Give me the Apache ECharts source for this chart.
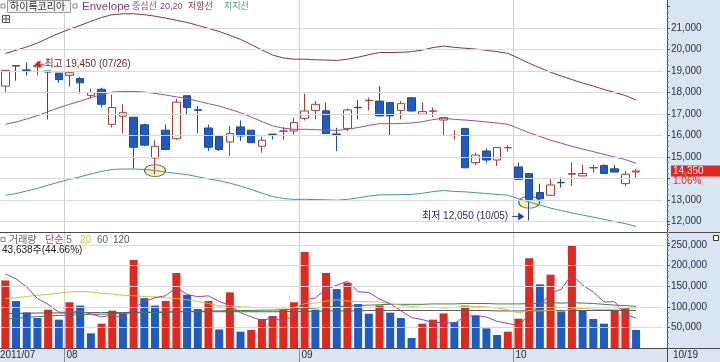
<!DOCTYPE html>
<html><head><meta charset="utf-8">
<script src="https://cdn.jsdelivr.net/npm/echarts@6/dist/echarts.min.js"></script>
<style>html,body{margin:0;padding:0;background:#fff}#c{width:720px;height:362px}</style>
</head><body><div id="c"></div>
<script>
// ---------------- data ----------------
const dates = [
 '2011/07/22','2011/07/25','2011/07/26','2011/07/27','2011/07/28','2011/07/29',
 '2011/08/01','2011/08/02','2011/08/03','2011/08/04','2011/08/05','2011/08/08','2011/08/09','2011/08/10','2011/08/11','2011/08/12',
 '2011/08/16','2011/08/17','2011/08/18','2011/08/19','2011/08/22','2011/08/23','2011/08/24','2011/08/25','2011/08/26','2011/08/29','2011/08/30','2011/08/31',
 '2011/09/01','2011/09/02','2011/09/05','2011/09/06','2011/09/07','2011/09/08','2011/09/09','2011/09/14','2011/09/15','2011/09/16',
 '2011/09/19','2011/09/20','2011/09/21','2011/09/22','2011/09/23','2011/09/26','2011/09/27','2011/09/28','2011/09/29','2011/09/30',
 '2011/10/04','2011/10/05','2011/10/06','2011/10/07','2011/10/10','2011/10/11','2011/10/12','2011/10/13','2011/10/14','2011/10/17','2011/10/18','2011/10/19'
];
const openP  = [18300,19250,19050,19200,19000,18900,18800,18650,17870,18150,16520,16900,16850,16500,14950,16250,15850,17850,17200,16350,15950,15700,16400,16250,15500,16060,16200,16210,16800,17170,17150,16070,16330,17310,17620,17600,17530,17170,17760,16990,17130,16720,16000,16330,14740,15280,14860,15430,14540,14230,13350,13220,13820,14200,14120,14490,14610,14450,13760,14300];
const highP  = [19050,19250,19390,19450,19000,18900,18950,18720,18180,18220,17900,17450,16850,16550,15780,16500,17700,17850,17370,16500,16000,16450,16700,16250,15950,16060,16400,16830,17950,17600,17530,16360,17260,17650,17760,18300,17530,17600,17780,17530,17300,16840,16240,16330,15200,15400,15440,15560,14740,14230,13760,13960,14040,14740,14630,14630,14650,14630,14350,14450];
const lowP   = [18000,18550,18800,18800,16750,18450,18270,17950,17730,17300,16370,16100,14470,15500,14200,15350,15800,17000,16100,15280,15280,15050,15750,15650,15200,15820,15780,16050,16700,16750,16080,15280,16210,16750,17170,16900,15980,16750,17120,16980,16860,15980,15820,14500,14630,14740,14580,15250,13950,12050,13000,13200,13580,13650,14110,14270,14220,14300,13620,14050];
const closeP = [19030,19230,19030,19250,18950,18600,18920,18450,18000,17450,17300,17060,15450,15550,15500,15350,17550,17300,17170,15450,15350,16090,15980,15670,15780,16050,16210,16600,17140,17450,16090,16050,17190,17290,17640,16910,16910,17480,17140,17110,17140,16830,16010,14500,15090,14860,15440,15440,13960,13030,13060,13700,13800,14230,14230,14510,14230,14300,14200,14350];

const envMid   = [16520,16630,16770,16920,17110,17290,17450,17600,17760,17910,18020,18050,18050,18020,17960,17880,17800,17720,17600,17480,17370,17220,17060,16860,16650,16450,16340,16290,16290,16270,16260,16240,16290,16370,16470,16550,16550,16560,16580,16640,16740,16800,16750,16720,16680,16630,16580,16520,16330,16130,15960,15780,15640,15500,15370,15250,15120,15000,14880,14710];
const envUpper = [19820,19960,20120,20300,20530,20750,20940,21120,21310,21490,21620,21660,21660,21620,21550,21460,21360,21260,21120,20980,20840,20660,20470,20230,19980,19740,19610,19550,19550,19520,19510,19490,19550,19640,19760,19860,19860,19870,19900,19970,20090,20160,20100,20060,20020,19960,19900,19820,19600,19360,19150,18940,18770,18600,18440,18300,18140,18000,17860,17650];
const envLower = [13220,13300,13420,13540,13690,13830,13960,14080,14210,14330,14420,14440,14440,14420,14370,14300,14240,14180,14080,13980,13900,13780,13650,13490,13320,13160,13070,13030,13030,13020,13010,12990,13030,13100,13180,13240,13240,13250,13260,13310,13390,13440,13400,13380,13340,13300,13260,13220,13060,12900,12770,12620,12510,12400,12300,12200,12100,12000,11900,11770];

const volume = [164000,114000,86600,72800,93000,68800,111000,103000,35600,59000,90600,82500,213600,121000,103000,114000,182000,129000,94700,114000,45000,135000,39600,43700,70400,77700,93000,111000,233000,93000,182000,143000,158600,106800,83300,103000,85800,72800,24300,59000,68800,84000,63000,103000,77700,47700,31600,39600,71200,218000,154500,178000,90600,249000,90600,70400,59000,92000,97713,43638];
const volMA5   = [180000,168000,148000,120000,106000,87000,86400,89700,82300,75500,79800,74100,96300,113000,122000,127000,147000,130000,124500,126700,113000,103500,85700,75500,66700,73300,64900,79200,117000,121500,142400,152400,162000,136700,134700,119000,107500,90300,73800,69000,62100,61800,59800,75600,79300,75100,64600,59900,53600,81600,103000,132300,142500,178000,152500,135700,112000,112200,81900,72500];
const volMA20  = [120000,122000,125000,128000,130000,133000,136000,137000,136000,133000,131000,128000,127000,125000,124000,122000,120000,117000,113000,108000,102000,103000,100000,99000,98000,98000,97000,98000,108000,109000,114000,117000,114000,113000,112000,112000,107000,104000,101000,98000,99000,97000,98000,101000,101000,100000,97000,93000,85000,91000,90000,92000,88000,95000,96000,94000,93000,94000,97000,97000];
const volMA60  = [70000,72000,74000,76000,78000,79000,80000,81000,82000,82000,83000,84000,85000,86000,86000,87000,88000,89000,89000,90000,90000,91000,91000,91000,92000,92000,93000,94000,96000,97000,99000,100000,102000,103000,104000,105000,106000,106000,106000,106000,107000,107000,107000,108000,108000,108000,107000,107000,107000,108000,109000,110000,109000,110000,109000,108000,106000,104000,103000,101000];
const volMA120 = [84000,84000,84000,85000,85000,85000,85000,86000,86000,86000,86000,86000,87000,87000,87000,87000,88000,88000,88000,88000,88000,88000,88000,88000,88000,88000,88000,89000,89000,89000,90000,90000,90000,90000,91000,91000,91000,91000,91000,91000,91000,91000,91000,91000,91000,91000,90000,90000,90000,90000,90000,91000,91000,91000,91000,91000,91000,91000,91000,91000];

const priceMin = 11000, priceMax = 22000, priceStep = 1000;
const volMin = 0, volMax = 300000, volStep = 50000;
const touchIdx = [14, 49];          // candles touching the support line
const highDateText = '07/26';       // as printed on the chart
const stockName = '하이록코리아';

// ---------------- layout / style ----------------
const BAND = 10.717, GL = -1.66, PADCATS = 2;
const N = dates.length;
const GW = (N + PADCATS) * BAND;
const GR = 720 - (GL + GW);
const AXIS_X = 667;
const YOFF = AXIS_X - (GL + GW);
const RED = '#E5261C', BLUE = '#1F5BC6';
const FONT = "'Liberation Sans','Noto Sans CJK KR',sans-serif";
const fmt = v => String(v).replace(/\B(?=(\d{3})+(?!\d))/g, ',');
const lastClose = closeP[N - 1];

const cats = dates.concat(['pad1', 'pad2']);
const hiddenX = {axisLine:{show:false},axisTick:{show:false},axisLabel:{show:false},splitLine:{show:false}};

const chart = echarts.init(document.getElementById('c'), null, {renderer:'canvas', width:720, height:362});

const axisLabelStyle = {fontSize:10, fontFamily:FONT, color:'#27324A', margin:4};
const yBase = {
  type:'value', position:'right', offset:YOFF, z:5,
  axisLine:{show:true, lineStyle:{color:'#555', width:1}},
  axisTick:{show:true, length:3, lineStyle:{color:'#555'}},
  minorTick:{show:true, splitNumber:4, length:2, lineStyle:{color:'#888'}},
  splitLine:{show:true, showMinLine:false, showMaxLine:false, lineStyle:{color:'#DADADA', width:1}}
};

const lineS = (name, data, color, xi, yi) => ({
  name, type:'line', data, xAxisIndex:xi, yAxisIndex:yi, symbol:'none', smooth:false,
  lineStyle:{color, width:1}, itemStyle:{color}, silent:true
});

chart.setOption({
  animation:false, backgroundColor:'#ffffff',
  grid:[
    {left:GL, right:GR, top:6.5, height:236.5},
    {left:GL, right:GR, top:224.4, height:123.6}
  ],
  xAxis:[
    Object.assign({type:'category', gridIndex:0, data:cats, boundaryGap:true}, hiddenX),
    Object.assign({type:'category', gridIndex:1, data:cats, boundaryGap:true}, hiddenX)
  ],
  yAxis:[
    Object.assign({}, yBase, {gridIndex:0, min:priceMin, max:priceMax, interval:priceStep,
      axisLabel:Object.assign({}, axisLabelStyle, {formatter: v => (v <= priceMin || v >= priceMax || Math.abs(v - lastClose) < 500) ? '' : fmt(v)})}),
    Object.assign({}, yBase, {gridIndex:1, min:volMin, max:volMax, interval:volStep,
      axisLabel:Object.assign({}, axisLabelStyle, {formatter: v => (v <= volMin || v >= volMax) ? '' : fmt(v)})})
  ],
  series:[
    lineS('저항선', envUpper, '#853838', 0, 0),
    lineS('지지선', envLower, '#3F9A9A', 0, 0),
    lineS('Envelope중심선', envMid, '#9C4F9C', 0, 0),
    {type:'scatter', xAxisIndex:0, yAxisIndex:0, silent:true, symbol:'circle', symbolSize:[21,12],
     data: touchIdx.map(i => [i, envLower[i]]),
     itemStyle:{color:'rgba(240,240,150,0.85)', borderColor:'#3c3c2c', borderWidth:1}},
    {type:'candlestick', name:stockName, xAxisIndex:0, yAxisIndex:0, barWidth:8,
     data: dates.map((d, i) => [openP[i], closeP[i], lowP[i], highP[i]]),
     itemStyle:{color:'#ffffff', color0:BLUE, borderColor:'#A83A3A', borderColor0:'#1E4A9E', borderWidth:1}},
    {type:'bar', name:'거래량', xAxisIndex:1, yAxisIndex:1, barWidth:8, silent:true,
     data: volume.map((v, i) => ({value:v, itemStyle:{color:(i === 0 || v >= volume[i - 1]) ? RED : BLUE}}))},
    lineS('120', volMA120, '#5A5A5A', 1, 1),
    lineS('60', volMA60, '#3A7F4F', 1, 1),
    lineS('20', volMA20, '#CFC04A', 1, 1),
    lineS('5', volMA5, '#A040A0', 1, 1)
  ]
});

// ---------------- annotations computed from the axes ----------------
const P = (i, v) => chart.convertToPixel({gridIndex:0}, [i, v]);
const band = P(1, 15000)[0] - P(0, 15000)[0];
const T = (x, y, text, color, size, align, extra) => Object.assign({
  type:'text', x, y, silent:true, z:20,
  style:{text, fill:color, font:(size || 10) + 'px ' + FONT, textAlign:align || 'left', textVerticalAlign:'middle', align:align || 'left', verticalAlign:'middle'}
}, extra || {});
const L = (x1, y1, x2, y2, color, z) => ({type:'line', silent:true, z:z === undefined ? 1 : z, shape:{x1, y1, x2, y2}, style:{stroke:color, lineWidth:1}});
const R = (x, y, w, h, fill, stroke, z) => ({type:'rect', silent:true, z:z === undefined ? -1 : z, shape:{x, y, width:w, height:h}, style:{fill, stroke:stroke || null, lineWidth:1}});

const g = [];
// backgrounds
g.push(R(AXIS_X, 0, 720 - AXIS_X, 362, '#DAE5F2', null, -1));
g.push(R(0, 348, AXIS_X, 14, '#DAE5F2', null, -1));

// month separators + date labels
const monthStarts = dates.map((d, i) => i).filter(i => i > 0 && dates[i].slice(5, 7) !== dates[i - 1].slice(5, 7));
monthStarts.forEach(i => {
  const x = Math.round(P(i, 15000)[0] - band / 2) + 0.5;
  g.push(L(x, 0, x, 348, '#D0D0D0', 0));
  g.push(L(x, 348, x, 362, '#8A8A8A', 2));
  g.push(T(x + 2, 355.5, dates[i].slice(5, 7), '#2a2a2a', 10));
});
g.push(T(0, 355.5, dates[0].slice(0, 7), '#2a2a2a', 10));
g.push(T(AXIS_X + 6, 355.5, dates[N - 1].slice(5), '#2a2a2a', 10));

// frame lines
g.push(L(0, 232.5, 720, 232.5, '#4a4a4a', 3));
g.push(L(0, 348.5, 720, 348.5, '#4a4a4a', 3));
g.push(L(AXIS_X + 0.5, 0, AXIS_X + 0.5, 362, '#4a4a4a', 3));

// top legend
g.push(R(1, 4, 4, 4, '#f4f4f4', '#8a8a8a', 20));
g.push(R(7.5, 0.5, 63, 12, '#F2F2F2', '#9a9a9a', 19));
g.push(T(10, 7, stockName, '#333333', 10));
g.push(R(73, 4, 4, 4, '#f4f4f4', '#8a8a8a', 20));
g.push(T(82, 7, 'Envelope', '#8A3D8A', 11.5));
g.push(T(132, 7, '중심선', '#8A3D8A', 9));
g.push(T(160, 7, '20,20', '#8A3D8A', 9));
g.push(T(188, 7, '저항선', '#853838', 9));
g.push(T(224, 7, '지지선', '#3F9A9A', 9));
g.push(R(2.5, 15.5, 7, 7, '#ffffff', '#555', 20));
g.push(L(2.5, 19, 9.5, 19, '#555', 21));
g.push(L(6, 15.5, 6, 22.5, '#555', 21));

// high / low notes
let hi = 0, lo = 0;
highP.forEach((v, i) => { if (v > highP[hi]) hi = i; });
lowP.forEach((v, i) => { if (v < lowP[lo]) lo = i; });
const ph = P(hi, highP[hi]);
const hy = ph[1] + 3;
g.push({type:'polygon', silent:true, z:21, shape:{points:[[ph[0] - 3, hy], [ph[0] + 3, hy - 4], [ph[0] + 3, hy + 4]]}, style:{fill:'#E02020'}});
g.push(L(ph[0] + 3, hy, ph[0] + 7, hy, '#E02020', 21));
g.push(T(ph[0] + 7, hy, '최고 ' + fmt(highP[hi]) + ' (' + highDateText + ')', '#6E2A2A', 10));
const pl = P(lo, lowP[lo]);
const ly = pl[1] - 4;
const tip = pl[0] - 5;
g.push({type:'polygon', silent:true, z:21, shape:{points:[[tip, ly], [tip - 6, ly - 4], [tip - 6, ly + 4]]}, style:{fill:'#2238B0'}});
g.push(L(tip - 12, ly, tip - 6, ly, '#2238B0', 21));
g.push(T(tip - 16, ly, '최저 ' + fmt(lowP[lo]) + ' (' + dates[lo].slice(5) + ')', '#1F2A5A', 10, 'right'));

// current price box
const yc = P(N - 1, lastClose)[1];
g.push(R(AXIS_X + 4, Math.round(yc) - 5.5, 720 - AXIS_X - 4, 11, '#E3261E', null, 20));
g.push(T(AXIS_X + 6, yc + 0.5, fmt(lastClose), '#ffffff', 10));
g.push(T(AXIS_X + 6, yc + 10, ((lastClose - closeP[N - 2]) / closeP[N - 2] * 100).toFixed(2) + '%', '#E3261E', 10));

// volume legend
g.push(R(1, 237.5, 4, 4, '#f4f4f4', '#8a8a8a', 20));
g.push(T(9, 240, '거래량', '#666666', 10));
g.push(T(45, 240, '단순 5', '#A040A0', 10));
g.push(T(80, 240, '20', '#CFC04A', 10));
g.push(T(97, 240, '60', '#3A7F4F', 10));
g.push(T(113, 240, '120', '#555555', 10));
g.push(T(2, 250, fmt(volume[N - 1]) + '주(' + (volume[N - 1] / volume[N - 2] * 100).toFixed(2) + '%)', '#222222', 10));
g.push(R(713.5, 235.5, 5, 5, '#ffffff', '#333', 20));

chart.setOption({graphic:{elements:g}});
</script></body></html>
